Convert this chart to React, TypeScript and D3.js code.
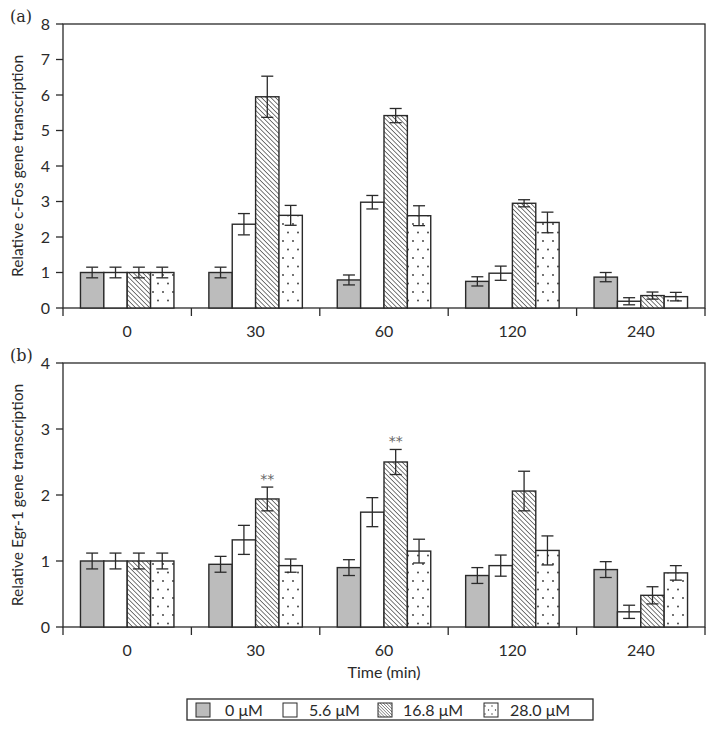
import React from "react";
import * as d3 from "d3";

const categories = ["0", "30", "60", "120", "240"];
const series = ["0 μM", "5.6 μM", "16.8 μM", "28.0 μM"];

// Panel (a) c-Fos: values per category, per series
const fosValues = [
  [1.0, 1.0, 1.0, 1.0],
  [1.0, 2.36, 5.95, 2.61],
  [0.79, 2.98, 5.42, 2.6],
  [0.75, 0.98, 2.95, 2.41],
  [0.87, 0.19, 0.35, 0.32],
];
const fosErrors = [
  [0.15, 0.15, 0.15, 0.15],
  [0.15, 0.3, 0.58, 0.28],
  [0.14, 0.19, 0.2, 0.28],
  [0.13, 0.2, 0.1, 0.29],
  [0.13, 0.1, 0.1, 0.12],
];
// Panel (b) Egr-1
const egrValues = [
  [1.0, 1.0, 1.0, 1.0],
  [0.95, 1.32, 1.94, 0.93],
  [0.9, 1.74, 2.5, 1.15],
  [0.78, 0.93, 2.06, 1.16],
  [0.87, 0.23, 0.48, 0.82],
];
const egrErrors = [
  [0.12, 0.12, 0.12, 0.12],
  [0.12, 0.22, 0.18, 0.1],
  [0.12, 0.22, 0.19, 0.18],
  [0.12, 0.16, 0.3, 0.22],
  [0.12, 0.1, 0.13, 0.11],
];
// significance markers: [categoryIndex, seriesIndex]
const egrStars = [
  [1, 2],
  [2, 2],
];
const fosTicks = [0, 1, 2, 3, 4, 5, 6, 7, 8];
const egrTicks = [0, 1, 2, 3, 4];

const FONT = "Lato, 'Open Sans', sans-serif";
const INK = "#2a2a2a";

const fills = ["#bcbcbc", "#ffffff", "url(#hatch)", "url(#dots)"];
const legendFills = ["#bcbcbc", "#ffffff", "url(#hatchFine)", "url(#dotsLegend)"];

type PanelProps = {
  label: string;
  yLabel: string;
  values: number[][];
  errors: number[][];
  ticks: number[];
  yMax: number;
  top: number;
  bottom: number;
  stars?: number[][];
};

const LEFT = 63;
const RIGHT = 705;

function Panel({ label, yLabel, values, errors, ticks, yMax, top, bottom, stars = [] }: PanelProps) {
  const x = d3.scaleBand<string>().domain(categories).range([LEFT, RIGHT]).padding(0);
  const bw = x.bandwidth();
  const inner = d3
    .scaleBand<string>()
    .domain(series)
    .range([bw * 0.136, bw * (1 - 0.136)])
    .padding(0);
  const y = d3.scaleLinear().domain([0, yMax]).range([bottom, top]);
  const midY = (top + bottom) / 2;
  return (
    <g>
      <text x={10} y={top - 2} fontSize={16} fontFamily="'DejaVu Serif', serif" fill={INK}>
        {label}
      </text>
      <text
        transform={`translate(23,${midY}) rotate(-90)`}
        textAnchor="middle"
        fontSize={15.5}
        fontFamily={FONT}
        fill={INK}
      >
        {yLabel}
      </text>
      {/* frame */}
      <rect x={LEFT} y={top} width={RIGHT - LEFT} height={bottom - top} fill="none" stroke={INK} strokeWidth={1.3} />
      {ticks.map((t) => (
        <g key={t}>
          <line x1={LEFT - 7} x2={LEFT} y1={y(t)} y2={y(t)} stroke={INK} strokeWidth={1.3} />
          <text x={LEFT - 13} y={y(t) + 5.5} textAnchor="end" fontSize={16} fontFamily={FONT} fill={INK}>
            {t}
          </text>
        </g>
      ))}
      {categories.map((c, i) => (
        <g key={c}>
          <line x1={x(c)! + bw} x2={x(c)! + bw} y1={bottom} y2={bottom + 8} stroke={INK} strokeWidth={1.3} />
          {i === 0 && <line x1={x(c)!} x2={x(c)!} y1={bottom} y2={bottom + 8} stroke={INK} strokeWidth={1.3} />}
          <text x={x(c)! + bw / 2} y={bottom + 29} textAnchor="middle" fontSize={16} fontFamily={FONT} fill={INK}>
            {c}
          </text>
        </g>
      ))}
      {categories.map((c, ci) =>
        series.map((s, si) => {
          const v = values[ci][si];
          const e = errors[ci][si];
          const bx = x(c)! + inner(s)!;
          const w = inner.bandwidth();
          const cx = bx + w / 2;
          return (
            <g key={c + s}>
              <rect x={bx} y={y(v)} width={w} height={y(0) - y(v)} fill={fills[si]} stroke={INK} strokeWidth={1.4} />
              <line x1={cx} x2={cx} y1={y(v + e)} y2={y(Math.max(0, v - e))} stroke={INK} strokeWidth={1.3} />
              <line x1={cx - 6} x2={cx + 6} y1={y(v + e)} y2={y(v + e)} stroke={INK} strokeWidth={1.3} />
              <line x1={cx - 6} x2={cx + 6} y1={y(Math.max(0, v - e))} y2={y(Math.max(0, v - e))} stroke={INK} strokeWidth={1.3} />
            </g>
          );
        })
      )}
      {stars.map(([ci, si]) => {
        const c = categories[ci];
        const s = series[si];
        const cx = x(c)! + inner(s)! + inner.bandwidth() / 2;
        const v = values[ci][si] + errors[ci][si];
        return (
          <text key={`${ci}-${si}`} x={cx} y={y(v) - 3} textAnchor="middle" fontSize={14} fontFamily="'DejaVu Sans', sans-serif" fill="#666">
            **
          </text>
        );
      })}
    </g>
  );
}

export default function App() {
  const legendX = [196, 283, 378, 484];
  const legendTextX = [225, 309, 403, 510];
  return (
    <svg width={716} height={737} style={{ position: "absolute", left: 0, top: 0, background: "#fff" }}>
      <defs>
        <pattern id="hatch" patternUnits="userSpaceOnUse" width={3.3} height={3.3} patternTransform="rotate(-45)">
          <rect width={3.3} height={3.3} fill="#fff" />
          <line x1={0} y1={0} x2={0} y2={3.3} stroke="#222" strokeWidth={1.2} />
        </pattern>
        <pattern id="hatchFine" patternUnits="userSpaceOnUse" width={2.2} height={2.2} patternTransform="rotate(-45)">
          <rect width={2.2} height={2.2} fill="#fff" />
          <line x1={0} y1={0} x2={0} y2={2.2} stroke="#333" strokeWidth={0.9} />
        </pattern>
        <pattern id="dots" patternUnits="userSpaceOnUse" width={10} height={17}>
          <rect width={10} height={17} fill="#fff" />
          <circle cx={3} cy={3} r={0.9} fill="#333" />
          <circle cx={8} cy={11.5} r={0.9} fill="#333" />
        </pattern>
        <pattern id="dotsLegend" patternUnits="userSpaceOnUse" width={7} height={8}>
          <rect width={7} height={8} fill="#fff" />
          <circle cx={2} cy={2} r={0.7} fill="#333" />
          <circle cx={5.5} cy={6} r={0.7} fill="#333" />
        </pattern>
      </defs>
      <Panel
        label="(a)"
        yLabel="Relative c-Fos gene transcription"
        values={fosValues}
        errors={fosErrors}
        ticks={fosTicks}
        yMax={8}
        top={24}
        bottom={308}
      />
      <Panel
        label="(b)"
        yLabel="Relative Egr-1 gene transcription"
        values={egrValues}
        errors={egrErrors}
        ticks={egrTicks}
        yMax={4}
        top={363}
        bottom={627}
        stars={egrStars}
      />
      <text x={384} y={678} textAnchor="middle" fontSize={16} fontFamily={FONT} fill={INK}>
        Time (min)
      </text>
      <rect x={187} y={699} width={406} height={21} fill="#fff" stroke={INK} strokeWidth={1.3} />
      {series.map((s, i) => (
        <g key={s}>
          <rect x={legendX[i]} y={703} width={14} height={14} fill={legendFills[i]} stroke={INK} strokeWidth={1} />
          <text x={legendTextX[i]} y={715.5} fontSize={16} fontFamily={FONT} fill={INK}>
            {s}
          </text>
        </g>
      ))}
    </svg>
  );
}
